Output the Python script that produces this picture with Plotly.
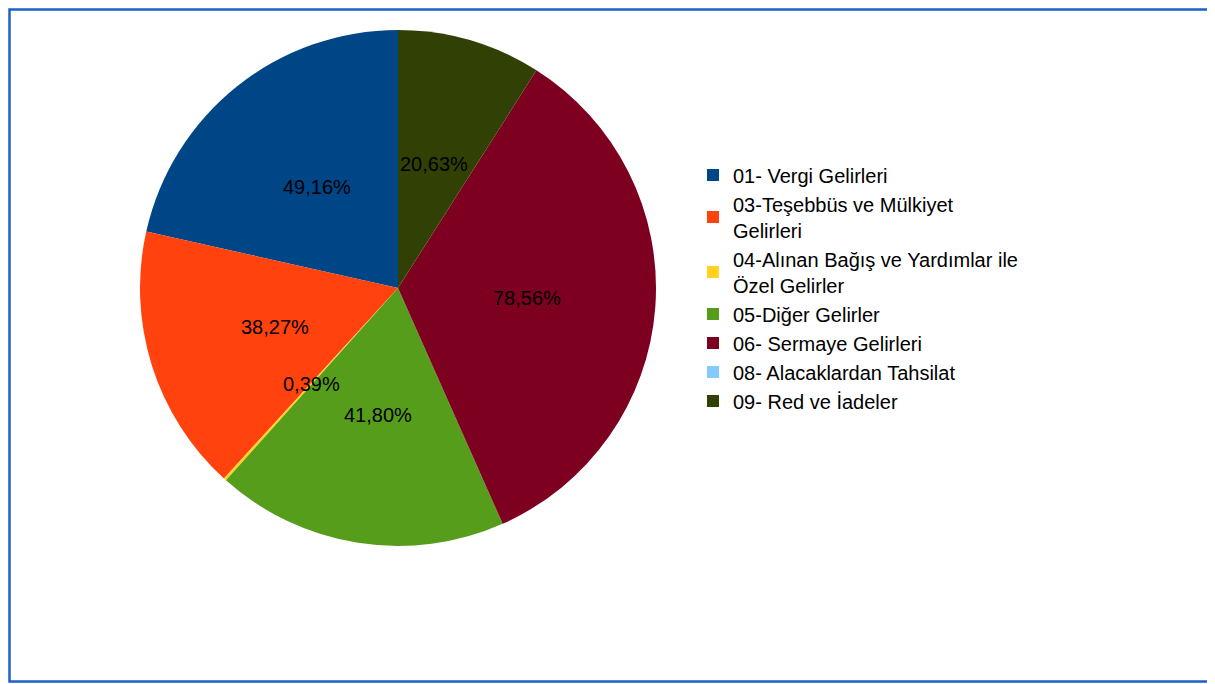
import math
import plotly.graph_objects as go

labels = [
    "01- Vergi Gelirleri",
    "03-Teşebbüs ve Mülkiyet<br>Gelirleri",
    "04-Alınan Bağış ve Yardımlar ile<br>Özel Gelirler",
    "05-Diğer Gelirler",
    "06- Sermaye Gelirleri",
    "08- Alacaklardan Tahsilat",
    "09- Red ve İadeler",
]
values = [49.16, 38.27, 0.39, 41.80, 78.56, 0.0, 20.63]
colors = ["#004586", "#FF420E", "#FFD320", "#579D1C", "#7E0021", "#83CAFF", "#314004"]

# page has an 8px body margin; work in page pixels and convert
OFF = 8
W, H = 1215 - OFF, 684 - OFF
cx, cy = 398 - OFF, 288 - OFF     # pie centre (from top of figure)
R = 258                           # pie radius in pixels

total = sum(values)
# plotly counterclockwise pies place the first slice clockwise of 12 o'clock;
# rotate back by the first slice so it starts at 12 o'clock going counterclockwise
rot = -360.0 * values[0] / total

FONT = "Liberation Sans, Arial, sans-serif"

fig = go.Figure()
fig.add_trace(go.Pie(
    labels=labels,
    values=values,
    marker=dict(colors=colors, line=dict(width=0)),
    sort=False,
    direction="counterclockwise",
    rotation=rot,
    textinfo="none",
    hoverinfo="label+value",
    domain=dict(x=[(cx - R) / W, (cx + R) / W], y=[(H - cy - R) / H, (H - cy + R) / H]),
    showlegend=True,
))

# value labels inside slices at half radius along the mid angle
cum = 0.0
annotations = []
for v in values:
    if v > 0:
        mid = (cum + v / 2) / total * 2 * math.pi
        px = cx - math.sin(mid) * R * 0.5
        py = (H - cy) + math.cos(mid) * R * 0.5
        annotations.append(dict(
            x=px / W, y=py / H, xref="paper", yref="paper",
            text=f"{v:.2f}%".replace(".", ","),
            showarrow=False,
            font=dict(family=FONT, size=20, color="#000000"),
            xanchor="center", yanchor="middle",
        ))
    cum += v

fig.update_layout(
    width=W, height=H,
    margin=dict(l=0, r=0, t=0, b=0),
    paper_bgcolor="white",
    plot_bgcolor="white",
    annotations=annotations,
    legend=dict(
        x=(693 - OFF) / W, y=1 - (288 - OFF) / H, xanchor="left", yanchor="middle",
        font=dict(family=FONT, size=20, color="#000000"),
        bgcolor="rgba(0,0,0,0)",
        itemclick=False, itemdoubleclick=False,
    ),
    shapes=[dict(
        type="rect", xref="paper", yref="paper",
        x0=1.5 / W, x1=(1213 - OFF) / W, y0=1 - (681.5 - OFF) / H, y1=1 - 1.5 / H,
        line=dict(color="#1a62c8", width=2.5),
        fillcolor="rgba(0,0,0,0)",
    )],
)

fig.write_html("out.html")
